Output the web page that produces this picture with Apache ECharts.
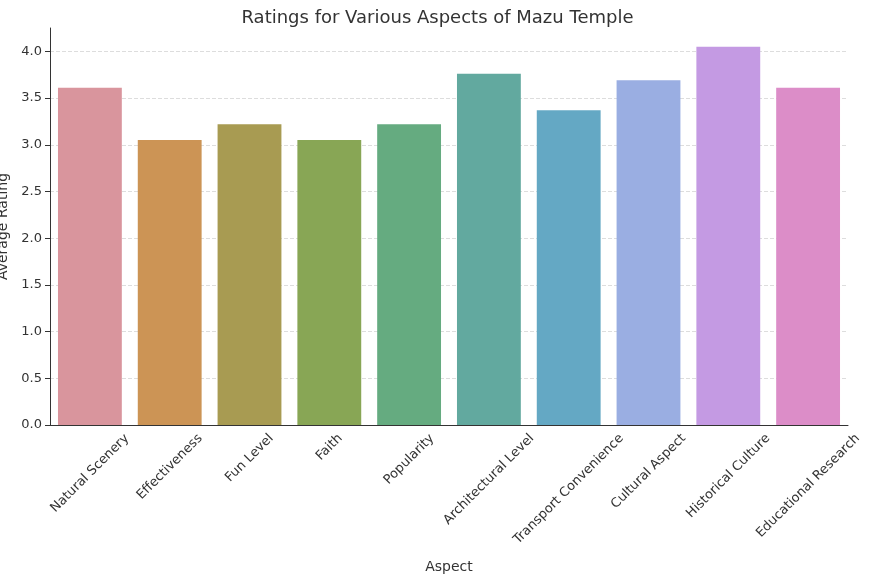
<!DOCTYPE html>
<html lang='en'>
  <head>
    <meta charset='utf-8'>
    <title>Mazu Temple</title>
  </head>
  <body style="margin:0">
    <div id="main" style="width:875px;height:581px;"></div>
    <script src="https://cdn.jsdelivr.net/npm/echarts@6/dist/echarts.min.js"></script>
    <script>
      var aspects = ['Natural Scenery', 'Effectiveness', 'Fun Level', 'Faith', 'Popularity',
        'Architectural Level', 'Transport Convenience', 'Cultural Aspect', 'Historical Culture', 'Educational Research'];
      var ratings = [3.61, 3.05, 3.22, 3.05, 3.22, 3.76, 3.37, 3.69, 4.05, 3.61];
      var barColors = ['#d9959d', '#cc9455', '#a89b52', '#88a655', '#65ab80',
        '#62a99f', '#64a8c4', '#9aaee2', '#c49ae3', '#dc8dc8'];

      var FONT = '13px "DejaVu Sans"';
      var myChart = echarts.init(document.getElementById('main'));
      var option = {
        animation: false,
        textStyle: { fontFamily: 'DejaVu Sans' },
        title: {
          text: 'Ratings for Various Aspects of Mazu Temple',
          left: 'center', top: 4,
          textStyle: { fontSize: 18, fontWeight: 'normal', color: '#333' }
        },
        grid: { left: 50, right: 27, top: 28, bottom: 156, outerBoundsMode: 'none', containLabel: false },
        xAxis: {
          type: 'category',
          data: aspects,
          name: 'Aspect', nameLocation: 'middle', nameGap: 135,
          nameTextStyle: { fontSize: 14, color: '#333' },
          axisLine: { lineStyle: { color: '#333' } },
          axisTick: { alignWithLabel: true, lineStyle: { color: '#333' } },
          axisLabel: { show: false }
        },
        yAxis: {
          type: 'value', min: 0, max: 4.25, interval: 0.5,
          name: 'Average Rating', nameLocation: 'middle', nameGap: 36,
          nameTextStyle: { fontSize: 14, color: '#333' },
          axisLine: { show: true, lineStyle: { color: '#333' } },
          axisTick: { show: true, lineStyle: { color: '#333' } },
          axisLabel: { fontSize: 13, color: '#333', formatter: function (v) { return v.toFixed(1); },
            showMaxLabel: false },
          splitLine: { showMaxLine: false, lineStyle: { color: '#ddd', type: 'dashed' } }
        },
        series: [{
          type: 'bar',
          barWidth: '80%',
          data: ratings.map(function (v, i) {
            return { value: v, itemStyle: { color: barColors[i] } };
          })
        }]
      };
      myChart.setOption(option);

      // matplotlib-style rotated labels: centred on the tick
      var ctx = document.createElement('canvas').getContext('2d');
      ctx.font = FONT;
      var labels = aspects.map(function (name) {
        var p = myChart.convertToPixel({ gridIndex: 0 }, [name, 0]);
        var w = ctx.measureText(name).width;
        var half = (w + 15) * Math.SQRT1_2 / 2;
        return {
          type: 'text', x: p[0], y: p[1] + 6 + half, rotation: Math.PI / 4,
          style: { text: name, font: FONT, fill: '#333', align: 'center', verticalAlign: 'middle' }
        };
      });
      myChart.setOption({ graphic: labels });
    </script>
  </body>
</html>
